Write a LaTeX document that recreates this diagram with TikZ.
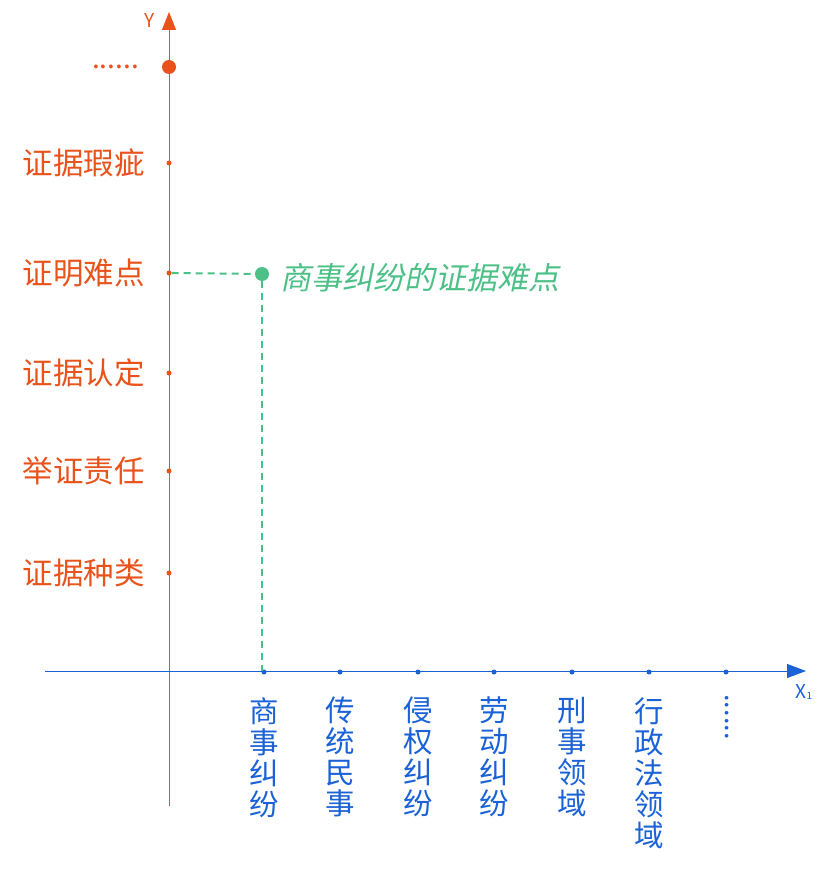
\documentclass[tikz,border=0pt]{standalone}
\usepackage{fontspec}
\usetikzlibrary{arrows.meta}
\newfontfamily\cjk{Noto Sans CJK SC}
\newfontfamily\cjkit[FakeSlant=0.2]{Noto Sans CJK SC}
\definecolor{ora}{HTML}{E8521B}
\definecolor{blu}{HTML}{1A62D6}
\definecolor{grn}{HTML}{4DC088}
\tikzset{
  ylab/.style={anchor=east, inner sep=0pt, text=ora, font=\cjk\fontsize{30.5}{31}\selectfont},
  xlab/.style={anchor=north, inner sep=0pt, text=blu, align=center, font=\cjk\fontsize{29.5}{31}\selectfont},
  ydot/.style={circle, fill=ora, inner sep=0pt, minimum size=5pt},
  xdot/.style={circle, fill=blu, inner sep=0pt, minimum size=5pt},
}
\begin{document}
\begin{tikzpicture}[x=1pt,y=-1pt]
\useasboundingbox (0,0) rectangle (834,872);
% axes
\coordinate (ybot) at (169,806);
\coordinate (ytop) at (169,12);
\coordinate (xleft) at (45,671);
\coordinate (xright) at (806,671);
\draw[ora, line width=1pt, -{Triangle[width=14pt,length=18pt]}] (ybot) -- (ytop);
\draw[blu, line width=1pt, -{Triangle[width=14pt,length=19pt]}] (xleft) -- (xright);
\node[text=ora, inner sep=0pt, font=\cjk\fontsize{19}{19}\selectfont] (ylabel) at (150,21) {Y};
\node[text=blu, inner sep=0pt, font=\cjk\fontsize{19}{19}\selectfont] (xlabel) at (804,692) {X\raisebox{-0.1em}{\fontsize{10}{10}\selectfont 1}};
% y ticks
\node[circle, fill=ora, inner sep=0pt, minimum size=14pt] (y0) at (169,67) {};
\node[ydot] (y1) at (169,163) {};
\node[ydot] (y2) at (169,273) {};
\node[ydot] (y3) at (169,373) {};
\node[ydot] (y4) at (169,471) {};
\node[ydot] (y5) at (169,573) {};
\node[text=ora, inner sep=0pt, font=\cjk\fontsize{28}{28}\selectfont, anchor=east] (l0) at (139,67) {......};
\node[ylab] (l1) at (145,163) {证据瑕疵};
\node[ylab] (l2) at (145,273) {证明难点};
\node[ylab] (l3) at (145,373) {证据认定};
\node[ylab] (l4) at (145,471) {举证责任};
\node[ylab] (l5) at (145,573) {证据种类};
% x ticks
\node[xdot] (x1) at (264,672) {};
\node[xdot] (x2) at (340,672) {};
\node[xdot] (x3) at (418,672) {};
\node[xdot] (x4) at (494,672) {};
\node[xdot] (x5) at (572,672) {};
\node[xdot] (x6) at (649,672) {};
\node[xdot] (x7) at (726,672) {};
\node[xlab] (m1) at (264,697) {商\\事\\纠\\纷};
\node[xlab] (m2) at (340,697) {传\\统\\民\\事};
\node[xlab] (m3) at (418,697) {侵\\权\\纠\\纷};
\node[xlab] (m4) at (494,697) {劳\\动\\纠\\纷};
\node[xlab] (m5) at (572,697) {刑\\事\\领\\域};
\node[xlab] (m6) at (649,697) {行\\政\\法\\领\\域};
\node[text=blu, inner sep=0pt, rotate=-90, font=\cjk\fontsize{27}{27}\selectfont] (m7) at (727,717) {......};
% green point
\node[circle, fill=grn, inner sep=0pt, minimum size=14pt] (g) at (262,274) {};
\coordinate (gx) at (262,671);
\draw[grn, line width=2pt, dash pattern=on 7pt off 5pt] (y2) -- (g);
\draw[grn, line width=2pt, dash pattern=on 7pt off 5pt] (g) -- (gx);
\node[anchor=west, inner sep=0pt, text=grn, font=\cjkit\fontsize{31}{31}\selectfont] (gl) at (280,278) {商事纠纷的证据难点};
\end{tikzpicture}
\end{document}
